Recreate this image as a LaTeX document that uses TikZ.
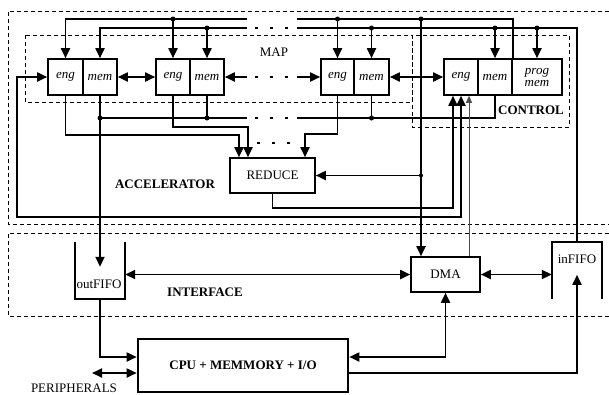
\documentclass[tikz,border=0pt]{standalone}
\usepackage{fontspec}
\setmainfont{Liberation Serif}
\usetikzlibrary{arrows.meta,calc}
\begin{document}
\begin{tikzpicture}[x=1pt,y=-1pt,
  font=\fontsize{13}{12}\selectfont,
  >={Triangle[length=10pt,width=9pt]},
  box/.style={draw,line width=1.6pt,inner sep=0pt,minimum height=36pt,font=\fontsize{13}{12}\selectfont\itshape},
  blk/.style={draw,line width=1.6pt,inner sep=0pt},
  conn/.style={line width=1.8pt},
  grp/.style={dash pattern=on 4pt off 3pt,line width=0.8pt},
  gap/.style={line width=1.2pt,dash pattern=on 3pt off 12pt},
  dot/.style={circle,fill,inner sep=0pt,minimum size=5pt},
  bold/.style={font=\fontsize{13}{12}\selectfont\bfseries}]
\useasboundingbox (0,0) rectangle (609,394);

% group outlines
\draw[grp] (609,11) -- (8,11) -- (8,224) -- (609,224);
\draw[grp] (609,233) -- (8,233) -- (8,316) -- (609,316);
\draw[grp] (25,35) rectangle (412,102);
\draw[grp] (412,35) rectangle (569,127);

% map/control nodes
\node[box,minimum width=35pt] (eng1) at (65.5,77) {eng};
\node[box,minimum width=34pt] (mem1) at (100,77) {mem};
\node[box,minimum width=34pt] (eng2) at (173,77) {eng};
\node[box,minimum width=34pt] (mem2) at (207,77) {mem};
\node[box,minimum width=33pt] (eng3) at (337.5,77) {eng};
\node[box,minimum width=35pt] (mem3) at (371.5,77) {mem};
\node[box,minimum width=34pt] (ceng) at (461,77) {eng};
\node[box,minimum width=34pt] (cmem) at (495,77) {mem};
\node[box,minimum width=50pt,align=center] (cprog) at (537,77) {prog\\mem};

\node[blk,minimum width=85pt,minimum height=35pt] (red) at (272.5,175.5) {REDUCE};
\node[blk,minimum width=69pt,minimum height=35pt] (dma) at (445.5,274.5) {DMA};
\node[draw,line width=2.6pt,inner sep=0pt,minimum width=210pt,minimum height=53pt,bold] (cpu) at (243,365.5) {CPU + MEMMORY + I/O};

\node[minimum width=50pt,minimum height=57pt,inner sep=0pt] (outf) at (100,270.5) {};
\draw[conn] (outf.north west) -- (outf.south west) -- (outf.south east) -- (outf.north east);
\node[inner sep=0pt] (outl) at (99,284) {outFIFO};
\node[minimum width=50pt,minimum height=57pt,inner sep=0pt] (inf) at (577,270.5) {};
\draw[conn] (inf.south west) -- (inf.north west) -- (inf.north east) -- (inf.south east);
\node[inner sep=0pt] (inl) at (577,259) {inFIFO};

% labels
\node (map) at (274,52) {MAP};
\node[bold] (acc) at (165,184) {ACCELERATOR};
\node[bold] (ctl) at (531,110) {CONTROL};
\node[bold] (intf) at (205,292) {INTERFACE};
\node (peri) at (74,388) {PERIPHERALS};

% bus 1 (y=19)
\coordinate (b1l) at (247,19);
\coordinate (b1r) at (297,19);
\coordinate (dtop) at (421,19);
\draw[conn] (cmem.north east) -- (cmem.north east |- b1r) -- (b1r);
\draw[conn,->] (b1l) -| (eng1.north);
\draw[conn,->] (eng2.north |- b1l) -- (eng2.north);
\draw[conn,->] (eng3.north |- b1r) -- (eng3.north);
\node[dot] (d1) at (eng2.north |- b1l) {};
\node[dot] (d2) at (eng3.north |- b1r) {};
\node[dot] (d3) at (dtop) {};
\draw[conn,->] (dtop) -- (dtop |- dma.north);

% bus 2 (y=28)
\coordinate (b2l) at (247,28);
\coordinate (b2r) at (297,28);
\draw[conn] (inf.north) -- (inf.north |- b2r) -- (b2r);
\draw[gap] (255,28) -- (297,28);
\draw[conn,->] (b2l) -| (mem1.north);
\draw[conn,->] (mem2.north |- b2l) -- (mem2.north);
\draw[conn,->] (mem3.north |- b2r) -- (mem3.north);
\draw[conn,->] (cmem.north |- b2r) -- (cmem.north);
\draw[conn,->] (cprog.north |- b2r) -- (cprog.north);
\node[dot] (d4) at (mem2.north |- b2l) {};
\node[dot] (d5) at (mem3.north |- b2r) {};
\node[dot] (d6) at (cmem.north |- b2r) {};
\node[dot] (d7) at (cprog.north |- b2r) {};

% horizontal links (y=77)
\coordinate (h1) at (247,77);
\coordinate (h2) at (297,77);
\draw[conn,<->] (mem1.east) -- (eng2.west);
\draw[conn,<-] (mem2.east) -- (h1);
\draw[gap] (255,77) -- (297,77);
\draw[conn,->] (h2) -- (eng3.west);
\draw[conn,<->] (mem3.east) -- (ceng.west);

% memory bus (y=118)
\coordinate (m1) at (247,118);
\coordinate (m2) at (297,118);
\draw[conn] (mem1.south |- m1) -- (m1);
\draw[gap] (255,118) -- (297,118);
\draw[conn] (m2) -| (cmem.south);
\draw[conn] (mem2.south) -- (mem2.south |- m1);
\draw[conn] (mem3.south) -- (mem3.south |- m2);
\draw[conn,->] (mem1.south) -- ($(outf.north)+(0,25)$);
\node[dot] (d8) at (mem1.south |- m1) {};
\node[dot] (d9) at (mem2.south |- m1) {};
\node[dot] (d10) at (mem3.south |- m2) {};

% engines to REDUCE
\coordinate (r1) at (239,135);
\coordinate (r2) at (248,127);
\coordinate (r3) at (305,134);
\draw[conn,->] (eng1.south) |- (r1) -- (r1 |- red.north);
\draw[conn,->] (eng2.south) |- (r2) -- (r2 |- red.north);
\draw[conn,->] (eng3.south) |- (r3) -- (r3 |- red.north);
\draw[gap] (257,143) -- (300,143);

\node[dot,minimum size=4pt] (d11) at (dtop |- red.east) {};
\draw[conn,->] (d11) -- (red.east);
\coordinate (rb) at (453,208);
\draw[conn,->] (red.south) |- (rb) -- (rb |- ceng.south);

% feedback loop
\draw[conn,<->] (eng1.west) -- (17,77) -- (17,217) -- (461,217) -- (ceng.south);
\coordinate (tc) at ($(ceng.south)+(8,0)$);
\draw[line width=1pt,black!70,-{Triangle[length=7pt,width=6pt]}] (tc |- dma.north) -- (tc);

% interface
\draw[conn,<->] (outf.east |- dma.west) -- (dma.west);
\draw[conn,<->] (dma.east) -- (dma.east -| inf.west);
\draw[conn,->] (outf.south) |- ($(cpu.west)+(0,-8.5)$);
\coordinate (per) at (92,373);
\draw[conn,<->] (per) -- (per -| cpu.west);
\draw[conn,<->] ($(cpu.east)+(0,-8.5)$) -| (dma.south);
\draw[conn,->] ($(cpu.east)+(0,7.5)$) -| ($(inf.north)+(0,33)$);
\end{tikzpicture}
\end{document}
